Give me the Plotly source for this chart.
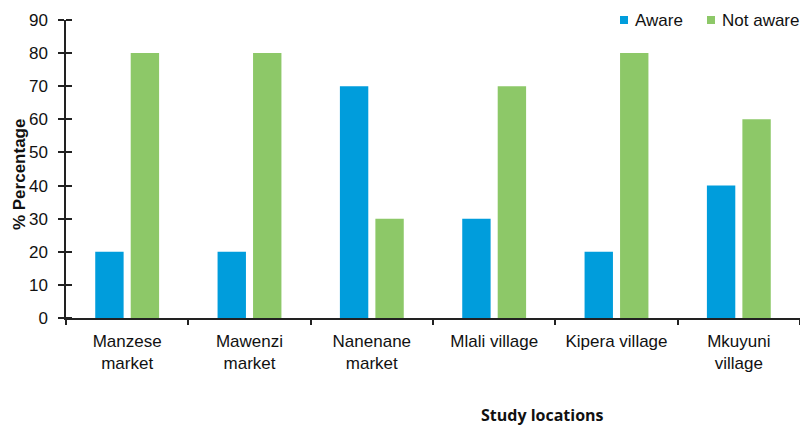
import plotly.graph_objects as go

# Awareness by study location (percent of respondents)
locations = ["Manzese<br>market", "Mawenzi<br>market", "Nanenane<br>market",
             "Mlali village", "Kipera village", "Mkuyuni<br>village"]
aware = [20, 20, 70, 30, 20, 40]
not_aware = [80, 80, 30, 70, 80, 60]
series_names = ["Aware", "Not aware"]

BLUE = "#009DDC"
GREEN = "#8DC868"
FONT = "Arial, Liberation Sans, sans-serif"

fig = go.Figure()
fig.add_trace(go.Bar(name=series_names[0], x=locations, y=aware, marker_color=BLUE,
                     marker_line_width=0, showlegend=False))
fig.add_trace(go.Bar(name=series_names[1], x=locations, y=not_aware, marker_color=GREEN,
                     marker_line_width=0, showlegend=False))

fig.update_layout(
    width=800, height=430,
    margin=dict(l=66, r=0, t=20, b=112),
    paper_bgcolor="white", plot_bgcolor="white",
    barmode="group", bargap=0.42, bargroupgap=0.2,
    font=dict(family=FONT, size=17, color="#111111"),
    showlegend=False,
)

# compact legend: small coloured squares next to the series names
legend_x = [633, 720]
for name, color, px in zip(series_names, [BLUE, GREEN], legend_x):
    fig.add_annotation(
        xref="paper", yref="paper", x=(px - 66) / 734, y=1.0,
        xanchor="left", yanchor="middle", showarrow=False,
        text=name, font=dict(size=17, family=FONT, color="#111111"),
    )
    fig.add_shape(
        type="rect", xref="paper", yref="paper",
        x0=(px - 13 - 66) / 734, x1=(px - 5 - 66) / 734,
        y0=(318 - 24) / 298, y1=(318 - 16) / 298,
        fillcolor=color, line_width=0,
    )

# x-axis title, set right of the plot centre
fig.add_annotation(
    xref="paper", yref="paper", x=(542 - 66) / 734, y=-(415 - 318) / 298,
    xanchor="center", yanchor="middle", showarrow=False,
    text="<b>Study locations</b>",
    font=dict(size=16, family="Open Sans, sans-serif", color="#111111"),
)

# y-axis title
fig.add_annotation(
    xref="paper", yref="paper", x=(19 - 66) / 734, y=0.483,
    xanchor="center", yanchor="middle", showarrow=False, textangle=-90,
    text="<b>% Percentage</b>", font=dict(size=17, family=FONT, color="#111111"),
)

fig.update_xaxes(
    type="category", range=[-0.5, 5.5],
    showline=True, linecolor="#222222", linewidth=1.5,
    ticks="outside", tickson="boundaries", ticklen=5, tickcolor="#222222", tickwidth=1.5,
    showgrid=False, tickfont=dict(size=17),
    ticklabelstandoff=7,
)
fig.update_yaxes(
    range=[0, 90], dtick=10,
    showline=True, linecolor="#222222", linewidth=1.5,
    ticks="outside", ticklen=6, tickcolor="#222222", tickwidth=1.5,
    minor=dict(ticks="inside", dtick=10, ticklen=6, tickcolor="#222222", tickwidth=1.5),
    showgrid=False, zeroline=False, tickfont=dict(size=17),
    ticklabelstandoff=7,
)

fig.write_html("out.html")
